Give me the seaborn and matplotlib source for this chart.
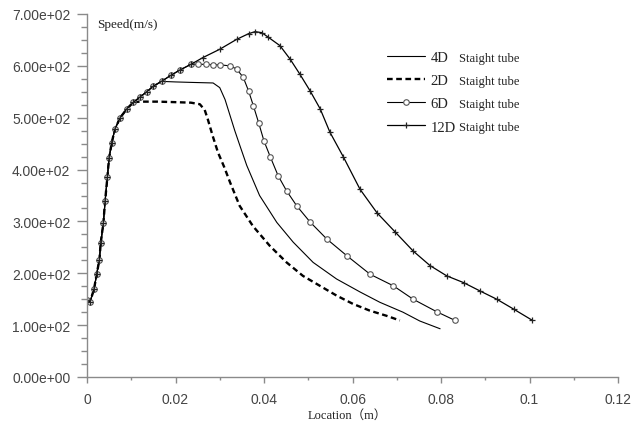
import matplotlib
matplotlib.use("Agg")
import matplotlib.pyplot as plt
import seaborn as sns
import pandas as pd
from matplotlib.ticker import MultipleLocator, FuncFormatter

sns.set_style("white")
plt.rcParams['font.family'] = ['Liberation Sans', 'DejaVu Sans']

# ---- data ----
rise_x = [0.0000, 0.0007, 0.0016, 0.0022, 0.0028, 0.0031, 0.0037, 0.0041, 0.0046,
          0.0050, 0.0056, 0.0063, 0.0075, 0.0090, 0.0105, 0.0120, 0.0135, 0.0150,
          0.0170, 0.0190, 0.0210, 0.0235, 0.0262, 0.0300, 0.0338, 0.0365, 0.0380,
          0.0395]
rise_v = [148, 145, 170, 199, 226, 258, 297, 340, 385,
          423, 452, 478, 500, 517, 530, 540, 550, 561,
          571, 582, 592, 603, 616, 632, 651, 662, 666,
          664]

d2_x = [0.0120, 0.0160, 0.0200, 0.0235, 0.0255, 0.0266, 0.0273, 0.0284, 0.0296,
        0.0310, 0.0323, 0.0345, 0.0375, 0.0413, 0.0451, 0.0488, 0.0526, 0.0564,
        0.0601, 0.0639, 0.0677, 0.0707]
d2_v = [531, 531, 530, 529, 526, 515, 497, 465, 433,
        405, 376, 330, 291, 253, 221, 195, 176, 157,
        141, 128, 118, 109]

d4_x = [0.0170, 0.0200, 0.0240, 0.0285, 0.0300, 0.0312, 0.0323, 0.0334, 0.0346,
        0.0361, 0.0390, 0.0429, 0.0466, 0.0511, 0.0564, 0.0617, 0.0662, 0.0714,
        0.0752, 0.0798]
d4_v = [570, 569, 568, 567, 558, 535, 505, 475, 445,
        408, 350, 298, 260, 221, 189, 164, 144, 125,
        108, 93]

d6_x = [0.0235, 0.0250, 0.0270, 0.0285, 0.0300, 0.0323, 0.0338, 0.0353, 0.0365,
        0.0376, 0.0388, 0.0400, 0.0414, 0.0432, 0.0451, 0.0474, 0.0504, 0.0542,
        0.0587, 0.0640, 0.0692, 0.0737, 0.0790, 0.0832]
d6_v = [603, 603, 603, 602, 602, 600, 594, 578, 552,
        523, 490, 455, 425, 388, 359, 330, 299, 266,
        234, 198, 176, 150, 126, 109]

d12_x = [0.0410, 0.0436, 0.0459, 0.0481, 0.0504, 0.0527, 0.0549, 0.0579, 0.0617,
         0.0655, 0.0696, 0.0737, 0.0775, 0.0813, 0.0851, 0.0888, 0.0926, 0.0964,
         0.1005]
d12_v = [655, 639, 613, 584, 552, 517, 472, 425, 362,
         317, 280, 243, 215, 195, 182, 166, 150, 131,
         110]

series_names = ["4D", "2D", "6D", "12D"]
legend_suffix = "Staight tube"
x_ticks = [0, 0.02, 0.04, 0.06, 0.08, 0.1, 0.12]
y_ticks = [0, 100, 200, 300, 400, 500, 600, 700]


def build(ex, ev, split):
    xs = [x for x in rise_x if x < split] + ex
    vs = [v for x, v in zip(rise_x, rise_v) if x < split] + ev
    return pd.DataFrame({"x": xs, "v": vs})


df4 = build(d4_x, d4_v, d4_x[0])
df2 = build(d2_x, d2_v, d2_x[0])
df6 = build(d6_x, d6_v, d6_x[0])
df12 = pd.DataFrame({"x": rise_x + d12_x, "v": rise_v + d12_v})

fig = plt.figure(figsize=(6.32, 4.27), dpi=100)
ax = fig.add_axes([87 / 632, 1 - 378 / 427, (618 - 87) / 632, (378 - 15) / 427])

sns.lineplot(data=df4, x="x", y="v", ax=ax, color="black", lw=0.8, sort=False,
             label=series_names[0])
sns.lineplot(data=df2, x="x", y="v", ax=ax, color="black", lw=1.7, sort=False,
             dashes=False, linestyle=(0, (2.4, 1.5)), label=series_names[1])
sns.lineplot(data=df6, x="x", y="v", ax=ax, color="black", lw=0.8, sort=False,
             marker="o", markersize=4, markerfacecolor="white",
             markeredgecolor="#555555", markeredgewidth=0.8, label=series_names[2])
sns.lineplot(data=df12, x="x", y="v", ax=ax, color="black", lw=0.9, sort=False,
             marker="+", markersize=5, markeredgecolor="#222222",
             markeredgewidth=0.9, label=series_names[3])

ax.set_xlim(0, 0.12)
ax.set_ylim(0, 700)
ax.set_xticks(x_ticks)
ax.set_yticks(y_ticks)
ax.xaxis.set_minor_locator(MultipleLocator(0.01))
ax.yaxis.set_minor_locator(MultipleLocator(25))
ax.xaxis.set_major_formatter(FuncFormatter(lambda v, p: "%g" % round(v, 4)))
ax.yaxis.set_major_formatter(FuncFormatter(lambda v, p: "%.2e" % v))

for s in ["top", "right"]:
    ax.spines[s].set_visible(False)
for s in ["left", "bottom"]:
    ax.spines[s].set_color("#8a8a8a")
    ax.spines[s].set_linewidth(1.0)

ax.tick_params(which="both", left=True, bottom=True, top=False, right=False)
ax.tick_params(axis="y", which="major", direction="out", length=7, width=1,
               color="#8a8a8a", labelsize=10, labelcolor="#444444", pad=5)
ax.tick_params(axis="y", which="minor", direction="out", length=4, width=1,
               color="#8a8a8a")
ax.tick_params(axis="x", which="major", direction="out", length=4, width=1,
               color="#8a8a8a", labelsize=10, labelcolor="#444444", pad=7)
ax.tick_params(axis="x", which="minor", direction="out", length=2.5, width=1,
               color="#8a8a8a")
ax.set_ylabel("")
ax.set_xlabel("Location（m）", family=["Liberation Serif", "Noto Sans CJK SC"],
              fontsize=9, color="#222222")
ax.xaxis.set_label_coords((347 - 87) / 531, (378 - 416) / 363)
ax.xaxis.label.set_va("center")

ax.text(97 / 632, 1 - 25 / 427, "Speed(m/s)", transform=fig.transFigure,
        family="Liberation Serif", fontsize=9.5, color="#222222", va="center",
        ha="left")

handles, labels = ax.get_legend_handles_labels()
leg = ax.legend(handles, labels, loc="upper left",
                bbox_to_anchor=(387 / 632, 1 - 52 / 427), bbox_transform=fig.transFigure,
                frameon=False, borderpad=0, borderaxespad=0, handlelength=2.6,
                handletextpad=0.4, labelspacing=0.68,
                prop={"family": "Liberation Serif", "size": 10.5})
for t in leg.get_texts():
    t.set_color("#222222")

fig.canvas.draw()
inv = fig.transFigure.inverted()
for t in leg.get_texts():
    bb = t.get_window_extent()
    yc = (bb.y0 + bb.y1) / 2
    fx, fy = inv.transform((max(459, bb.x1 + 1), yc))
    fig.text(fx, fy, legend_suffix, family="Liberation Serif", fontsize=9,
             color="#222222", va="center", ha="left")

fig.savefig("out.png", dpi=100)
